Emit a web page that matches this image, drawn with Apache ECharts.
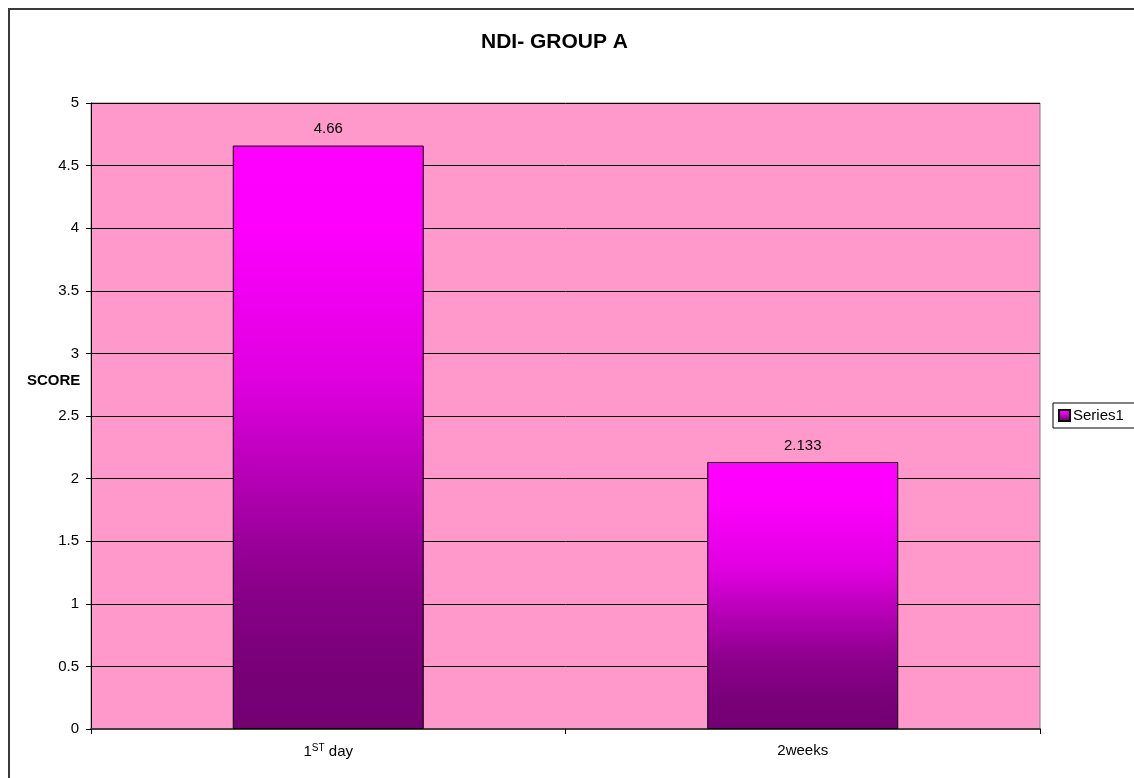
<!DOCTYPE html>
<html>
<head>
<meta charset="utf-8">
<title>NDI- GROUP A</title>
<script src="https://cdn.jsdelivr.net/npm/echarts@6/dist/echarts.min.js"></script>
<style>
  html, body { margin: 0; padding: 0; background: #ffffff; }
  #chart { width: 1134px; height: 778px; }
</style>
</head>
<body>
<div id="chart"></div>
<script>
// Time points and mean NDI scores
const categories = ['1ST day', '2weeks'];
const scores = [4.66, 2.133];
const seriesName = 'Series1';
const yTicks = { min: 0, max: 5, step: 0.5 };

const FONT = '"Liberation Sans", Arial, sans-serif';

const chart = echarts.init(document.getElementById('chart'), null, { renderer: 'canvas' });

// Magenta-to-plum fill, bright at the top of each bar
const barFill = new echarts.graphic.LinearGradient(0, 0, 0, 1, [
  { offset: 0, color: '#FF00FF' },
  { offset: 0.15, color: '#FC00FC' },
  { offset: 0.4, color: '#E000E0' },
  { offset: 0.6, color: '#AE00AE' },
  { offset: 0.75, color: '#8A008A' },
  { offset: 0.9, color: '#780078' },
  { offset: 1, color: '#730073' }
]);

chart.setOption({
  animation: false,
  backgroundColor: '#ffffff',
  textStyle: { fontFamily: FONT },
  title: {
    text: 'NDI- GROUP A',
    left: 481,
    top: 32,
    padding: 0,
    textStyle: { fontFamily: FONT, fontSize: 21, fontWeight: 'bold', color: '#000' }
  },
  graphic: [
    {
      type: 'rect',
      shape: { x: 9, y: 9, width: 1160, height: 820 },
      style: { fill: 'none', stroke: '#3a3a3a', lineWidth: 2 },
      silent: true,
      z: 100
    },
    {
      type: 'text',
      left: 27,
      top: 373,
      style: { text: 'SCORE', font: 'bold 15px ' + FONT, fill: '#000' }
    }
  ],
  legend: {
    data: [seriesName],
    left: 1053,
    top: 403,
    orient: 'vertical',
    icon: 'rect',
    itemWidth: 11,
    itemHeight: 11,
    itemGap: 4,
    padding: [5, 40, 5, 5],
    borderColor: '#000',
    borderWidth: 1,
    backgroundColor: '#fff',
    textStyle: { fontFamily: FONT, fontSize: 15, color: '#000', padding: [0, 0, 0, -2] }
  },
  grid: {
    left: 91,
    top: 103,
    right: 94,
    bottom: 49,
    show: true,
    backgroundColor: '#FF99CC',
    borderColor: '#808080',
    borderWidth: 1
  },
  xAxis: {
    type: 'category',
    data: categories,
    boundaryGap: true,
    axisLine: { show: true, lineStyle: { color: '#404040', width: 2 } },
    axisTick: { show: true, inside: false, length: 5, alignWithLabel: false, lineStyle: { color: '#000' } },
    axisLabel: {
      margin: 14,
      color: '#000',
      fontSize: 15,
      fontFamily: FONT,
      formatter: function (v) {
        if (v === '1ST day') return '{n|1}{sup|ST}{n| day}';
        return '{n|' + v + '}';
      },
      rich: {
        n: { fontSize: 15, fontFamily: FONT, color: '#000' },
        sup: { fontSize: 10, fontFamily: FONT, color: '#000', verticalAlign: 'top', padding: [0, 0, 7, 0] }
      }
    }
  },
  yAxis: {
    type: 'value',
    min: yTicks.min,
    max: yTicks.max,
    interval: yTicks.step,
    axisLine: { show: true, lineStyle: { color: '#000', width: 1 } },
    axisTick: { show: true, inside: false, length: 5, lineStyle: { color: '#000' } },
    axisLabel: { margin: 12, color: '#000', fontSize: 15, fontFamily: FONT },
    splitLine: { show: true, lineStyle: { color: '#000', width: 1 } }
  },
  series: [
    {
      name: seriesName,
      type: 'bar',
      data: scores,
      barWidth: '40.25%',
      itemStyle: { color: barFill, borderColor: '#000', borderWidth: 1 },
      label: {
        show: true,
        position: 'top',
        distance: 9,
        color: '#000',
        fontSize: 15,
        fontFamily: FONT
      }
    }
  ]
});
</script>
</body>
</html>
